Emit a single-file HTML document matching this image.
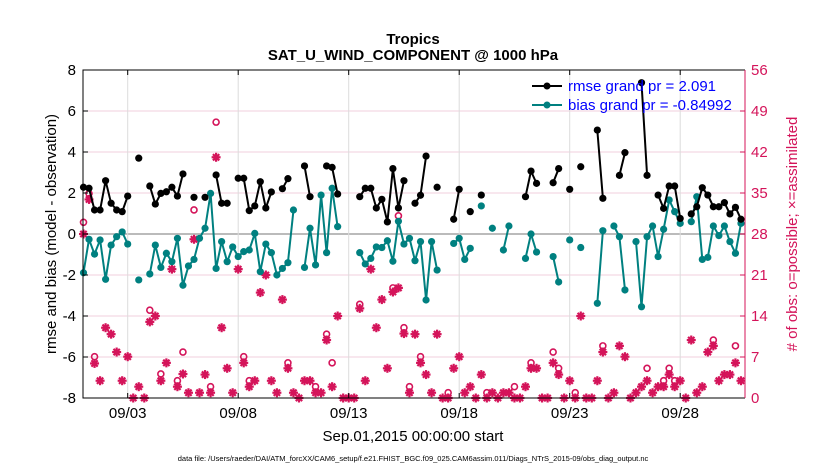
<!DOCTYPE html>
<html><head><meta charset="utf-8"><style>
body{margin:0;background:#fff;font-family:"Liberation Sans",sans-serif}
</style></head><body>
<svg id="chart" width="830" height="470" xmlns="http://www.w3.org/2000/svg" font-family="Liberation Sans, sans-serif">
<text x="413" y="44" text-anchor="middle" font-size="15" font-weight="bold">Tropics</text>
<text x="413" y="60" text-anchor="middle" font-size="15" font-weight="bold">SAT_U_WIND_COMPONENT @ 1000 hPa</text>
<g id="grid"></g><g id="marks"></g><g id="axes"></g>
<text transform="translate(56,234) rotate(-90)" text-anchor="middle" font-size="15">rmse and bias (model - observation)</text>
<text transform="translate(797,234) rotate(-90)" text-anchor="middle" font-size="15" fill="#d4145a"># of obs: o=possible; ×=assimilated</text>
<text x="413" y="441" text-anchor="middle" font-size="15">Sep.01,2015 00:00:00 start</text>
<text x="413" y="461" text-anchor="middle" font-size="7.5">data file: /Users/raeder/DAI/ATM_forcXX/CAM6_setup/f.e21.FHIST_BGC.f09_025.CAM6assim.011/Diags_NTrS_2015-09/obs_diag_output.nc</text>
<g>
<line x1="532" y1="86" x2="562" y2="86" stroke="#000" stroke-width="2"/><circle cx="547" cy="86" r="3.5" fill="#000"/>
<text x="568" y="91" font-size="15" fill="#0000ff">rmse grand pr = 2.091</text>
<line x1="532" y1="105" x2="562" y2="105" stroke="#008080" stroke-width="2"/><circle cx="547" cy="105" r="3.5" fill="#008080"/>
<text x="568" y="110" font-size="15" fill="#0000ff">bias grand pr = -0.84992</text>
</g>
</svg>
<script>
const rmse=[2.28,2.23,1.17,1.17,2.6,1.5,1.17,1.09,1.85,null,3.7,null,2.34,1.46,1.98,2.06,2.28,1.85,2.93,null,1.79,null,1.79,null,2.88,1.5,1.5,null,2.72,2.72,1.14,1.37,2.55,1.27,2.05,null,2.21,2.7,null,null,3.32,1.82,null,null,3.32,3.25,1.95,null,null,null,1.82,2.23,2.23,1.27,1.69,0.59,3.19,1.27,2.6,null,1.5,1.89,3.8,null,2.28,null,null,0.72,2.18,null,1.09,null,1.9,null,null,null,null,null,null,null,1.82,3.07,2.47,null,null,2.5,3.19,null,2.18,null,3.28,null,null,5.07,1.74,null,null,2.86,3.97,null,null,7.38,2.86,null,1.9,1.25,2.34,2.34,0.76,null,0.98,1.33,2.26,1.9,1.33,1.33,1.53,0.98,1.3,0.72];
const bias=[-1.89,-0.26,-0.98,-0.29,-2.21,-0.54,-0.13,0.1,-0.49,null,-2.24,null,-1.95,-0.54,-1.63,-0.94,-1.35,-0.21,-2.5,-1.56,-1.24,-0.21,0.28,1.98,-1.68,-0.37,-1.35,-0.63,-1.1,-0.86,-0.78,0.03,-1.84,-0.49,-0.91,-2.0,-1.68,-1.4,1.17,null,-1.63,0.28,-1.51,1.9,-0.91,2.23,0.36,null,null,null,-0.91,-1.46,-1.19,-0.63,-0.66,-0.33,-1.33,0.62,-0.49,-0.21,-1.3,-0.37,-3.22,-0.37,-1.76,null,null,-0.46,-0.21,-1.24,-0.7,null,1.37,null,0.28,null,-0.78,0.39,null,null,-1.19,0.0,-0.88,null,null,-1.1,-2.34,null,-0.29,null,-0.66,null,null,-3.38,0.16,null,0.39,-0.13,-2.73,null,-0.37,-3.55,-0.13,0.39,-1.1,0.23,1.66,1.09,0.52,null,0.6,1.82,-1.24,-1.14,0.39,-0.08,0.39,-0.37,-0.94,0.52];
const assim=[28,33.9,5.9,2.95,12,10.9,7.85,2.95,7.05,0,1.93,0,13,14,2.95,6,22,1.93,4.1,0.9,27.1,0.9,4,0.9,41.1,12,5.07,0.9,22,6,1.93,2.95,18,21,2.95,0.9,16.8,5.07,0.9,0,2.95,2.95,0.9,0.9,9.9,1.93,14,0,0,0,15.3,2.95,22,12,16.8,5.07,18.1,18.8,11,0.9,10.9,6,4,0.9,10.9,0,0,5.07,7.05,0.9,1.93,0,4,0,0.9,0,0.9,0.9,0,0,1.93,5.07,5.07,0,0,6,4,0,2.95,0,14,0,0,2.95,7.85,0,0.9,8.9,7.05,0,0.9,1.93,2.95,0.9,1.93,1.93,4,1.93,2.95,0,9.9,0.9,1.93,7.85,8.9,2.95,4,4,6,2.95];
const possible=[30,34.9,7.05,2.95,12,10.9,7.85,2.95,7.05,0,1.93,0,15,14,4.1,6,22,2.95,7.85,0.9,32.1,0.9,4,1.93,47.1,12,5.07,0.9,22,7.05,2.95,2.95,18,21,2.95,0.9,16.8,6,0.9,0,2.95,2.95,1.93,0.9,10.9,6,14,0,0,0,16,2.95,22,12,16.8,5.07,18.8,31.1,12,1.93,10.9,7.05,4,0.9,10.9,0,0.9,5.07,7.05,0.9,1.93,0,4,0.9,0.9,0,0.9,0.9,1.93,0,1.93,6,5.07,0,0,7.85,5.07,0,2.95,0.9,14,0,0,2.95,8.9,0,0.9,8.9,7.05,0,0.9,1.93,5.07,0.9,1.93,2.95,5.07,2.95,2.95,0,9.9,0.9,1.93,7.85,9.9,2.95,4,4,8.9,2.95];
const leftTicks=[-8,-6,-4,-2,0,2,4,6,8];
const rightTicks=[0,7,14,21,28,35,42,49,56];
const dateTicks=[2,7,12,17,22,27];
const dateLabels=["09/03","09/08","09/13","09/18","09/23","09/28"];
const stepDays=0.25;

const L=83,R=745,T=70,B=398,X0=83.5,PXD=22.1;
const xs=t=>X0+t*PXD;
const y1=v=>B-(v+8)/16*(B-T);
const y2=v=>B-v/56*(B-T);
const NS='http://www.w3.org/2000/svg';
function mk(tag,attrs,parent){const e=document.createElementNS(NS,tag);for(const k in attrs)e.setAttribute(k,attrs[k]);parent.appendChild(e);return e;}
const grid=document.getElementById('grid'),marks=document.getElementById('marks'),axes=document.getElementById('axes');
leftTicks.forEach(v=>{const l=mk('line',{x1:L,x2:R,y1:y1(v),y2:y1(v),stroke:v===0?'#bbbbbb':'#f2cfdc','stroke-width':v===0?2:1},grid);


const t=mk('text',{x:L-7,y:y1(v)+5,'text-anchor':'end','font-size':15},axes);t.textContent=v;


mk('line',{x1:L,x2:L+5,y1:y1(v),y2:y1(v),stroke:'#000'},axes);});
rightTicks.forEach(v=>{const t=mk('text',{x:R+6,y:y2(v)+5,'font-size':15,fill:'#d4145a'},axes);t.textContent=v;


mk('line',{x1:R-5,x2:R,y1:y2(v),y2:y2(v),stroke:'#d4145a'},axes);});
dateTicks.forEach((d,i)=>{const l=mk('line',{x1:xs(d),x2:xs(d),y1:T,y2:B,stroke:'#dcdcdc'},grid);


const t=mk('text',{x:xs(d),y:418,'text-anchor':'middle','font-size':15},axes);t.textContent=dateLabels[i];


mk('line',{x1:xs(d),x2:xs(d),y1:T,y2:T+5,stroke:'#000'},axes);mk('line',{x1:xs(d),x2:xs(d),y1:B,y2:B-5,stroke:'#000'},axes);});
const fr=mk('path',{d:`M${R},${T}H${L}V${B}H${R}`,fill:'none',stroke:'#000'},axes);


const rb=mk('line',{x1:R,x2:R,y1:T,y2:B,stroke:'#d4145a'},axes);


const C='#d4145a';
possible.forEach((v,i)=>{if(v>assim[i]+0.3){const c=mk('circle',{cx:xs(i*stepDays),cy:y2(v),r:3,fill:'none',stroke:C,'stroke-width':1.6},marks);

}});
assim.forEach((v,i)=>{const x=xs(i*stepDays),y=y2(v),s=4.5;const g=mk('g',{stroke:C,'stroke-width':2.2},marks);


mk('line',{x1:x-s,x2:x+s,y1:y,y2:y},g);mk('line',{x1:x,x2:x,y1:y-s,y2:y+s},g);
mk('line',{x1:x-s*.7,x2:x+s*.7,y1:y-s*.7,y2:y+s*.7},g);mk('line',{x1:x-s*.7,x2:x+s*.7,y1:y+s*.7,y2:y-s*.7},g);});
function series(arr,color,name){let d='';let prev=false;
arr.forEach((v,i)=>{if(v===null){prev=false;return;}d+=(prev?'L':'M')+xs(i*stepDays).toFixed(1)+','+y1(v).toFixed(1);prev=true;});
const p=mk('path',{d,fill:'none',stroke:color,'stroke-width':2},marks);


arr.forEach((v,i)=>{if(v===null)return;const c=mk('circle',{cx:xs(i*stepDays),cy:y1(v),r:3.6,fill:color},marks);

});}
series(bias,'#008080','bias');
series(rmse,'#000000','rmse');
</script>
</body></html>
